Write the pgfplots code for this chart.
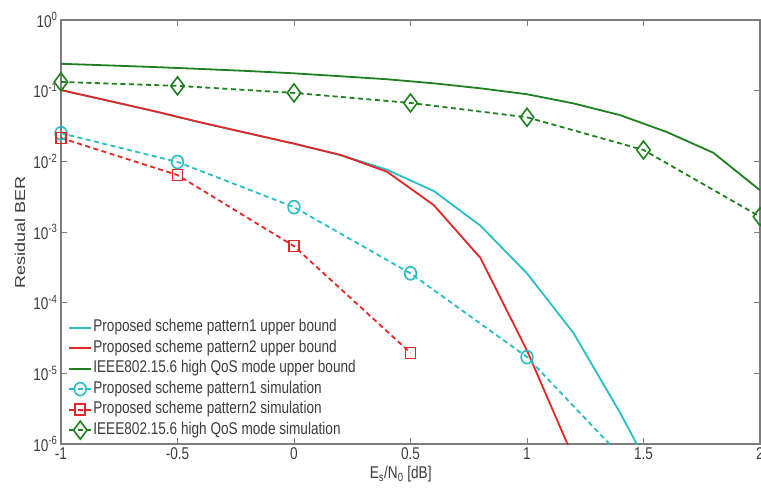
\documentclass[border=0pt]{standalone}
\usepackage{fontspec}
\setmainfont{Liberation Sans}[FakeStretch=0.8]
\newfontfamily\ylfont{Liberation Sans}
\usepackage{graphicx}
\usepackage{pgfplots}
\pgfplotsset{compat=1.18}
\definecolor{cyanc}{RGB}{40,190,195}
\definecolor{redc}{RGB}{228,38,38}
\definecolor{greenc}{RGB}{30,128,30}
\definecolor{axgray}{RGB}{125,125,125}
\definecolor{txt}{RGB}{60,60,60}
\begin{document}
\begin{tikzpicture}
\useasboundingbox (-61pt,-49pt) rectangle (700pt,444pt);
\begin{axis}[
  at={(0pt,0pt)}, anchor=south west,
  scale only axis, width=699pt, height=424pt,
  xmin=-1, xmax=2, ymin=1e-6, ymax=1,
  ymode=log, log basis y=10,
  xtick={-1,-0.5,0,0.5,1,1.5,2},
  xticklabels={-1,-0.5,0,0.5,1,1.5,2},
  ytick={1e-6,1e-5,1e-4,1e-3,1e-2,1e-1,1},
  yticklabels={10\textsuperscript{-6},10\textsuperscript{-5},10\textsuperscript{-4},10\textsuperscript{-3},10\textsuperscript{-2},10\textsuperscript{-1},10\textsuperscript{0}},
  ticklabel style={font=\fontsize{17}{20}\selectfont, text=txt},
  axis line style={axgray, line width=1.2pt},
  every tick/.style={axgray, line width=0.8pt},
  major tick length=6pt, minor tick length=3.5pt,
  xlabel={E\textsubscript{s}/N\textsubscript{0} [dB]},
  xlabel style={at={(axis description cs:0.486,-0.072)}, anchor=center, font=\fontsize{17}{20}\selectfont, text=txt},
  ylabel={\ylfont\scalebox{1}[0.8]{Residual BER}},
  ylabel style={at={(axis description cs:-0.0587,0.5)}, anchor=center, rotate=0, font=\fontsize{18}{20}\selectfont, text=txt},
  legend cell align=left,
  legend style={draw=none, fill=none, inner sep=0pt,
    at={(axis description cs:0.010,0.011)}, anchor=south west,
    font=\fontsize{17}{20}\selectfont, text=txt,
    row sep=2.5pt,
    nodes={inner sep=1pt, text height=12pt, text depth=4pt}},
  legend image code/.code={\draw[mark repeat=2,mark phase=2,line width=2.2pt] plot coordinates {(0pt,0pt)(11pt,0pt)(22pt,0pt)};},
  every axis plot/.append style={line width=1.8pt},
]
% Pattern1 upper bound
\addplot[color=cyanc, line width=1.8pt, no marks] coordinates {
(-1,0.102) (-0.8,0.0724) (-0.6,0.0513) (-0.4,0.0355) (-0.2,0.0251) (0,0.0178) (0.2,0.0123)
(0.4,0.0076) (0.6,0.0038) (0.8,0.00123) (1.0,2.6e-4) (1.2,3.7e-5) (1.4,2.75e-6) (1.6,1.6e-7)};
\addlegendentry{Proposed scheme pattern1 upper bound}
% Pattern2 upper bound
\addplot[color=redc, line width=1.8pt, no marks] coordinates {
(-1,0.102) (-0.8,0.0724) (-0.6,0.0513) (-0.4,0.0355) (-0.2,0.0251) (0,0.0178) (0.2,0.0123)
(0.4,0.0071) (0.6,0.0024) (0.8,4.3e-4) (1.0,2.1e-5) (1.2,6.3e-7)};
\addlegendentry{Proposed scheme pattern2 upper bound}
% IEEE upper bound
\addplot[color=greenc, line width=1.8pt, no marks] coordinates {
(-1,0.24) (-0.8,0.228) (-0.6,0.216) (-0.4,0.203) (-0.2,0.19) (0,0.176) (0.2,0.16)
(0.4,0.145) (0.6,0.127) (0.8,0.108) (1.0,0.089) (1.2,0.066) (1.4,0.045) (1.6,0.026) (1.8,0.0132) (2.0,0.0039)};
\addlegendentry{IEEE802.15.6 high QoS mode upper bound}
% Pattern1 simulation
\addplot[color=cyanc, dash pattern=on 5pt off 3.5pt, mark=o, mark size=6.5pt, mark options={solid, line width=1.6pt, xscale=0.9}] coordinates {
(-1,0.025) (-0.5,0.0098) (0,0.00225) (0.5,2.6e-4) (1.0,1.7e-5) (1.5,3.1e-7)};
\addlegendentry{Proposed scheme pattern1 simulation}
% Pattern2 simulation
\addplot[color=redc, dash pattern=on 5pt off 3.5pt, mark=square, mark size=5pt, mark options={solid, line width=1.6pt, yscale=1.1}] coordinates {
(-1,0.0214) (-0.5,0.0064) (0,6.3e-4) (0.5,1.95e-5)};
\addlegendentry{Proposed scheme pattern2 simulation}
% IEEE simulation
\addplot[color=greenc, dash pattern=on 5pt off 3.5pt, mark=diamond, mark size=9pt, mark options={solid, line width=1.6pt}] coordinates {
(-1,0.133) (-0.5,0.117) (0,0.093) (0.5,0.067) (1.0,0.042) (1.5,0.0145) (2.0,0.00165)};
\addlegendentry{IEEE802.15.6 high QoS mode simulation}
\end{axis}
\end{tikzpicture}
\end{document}
